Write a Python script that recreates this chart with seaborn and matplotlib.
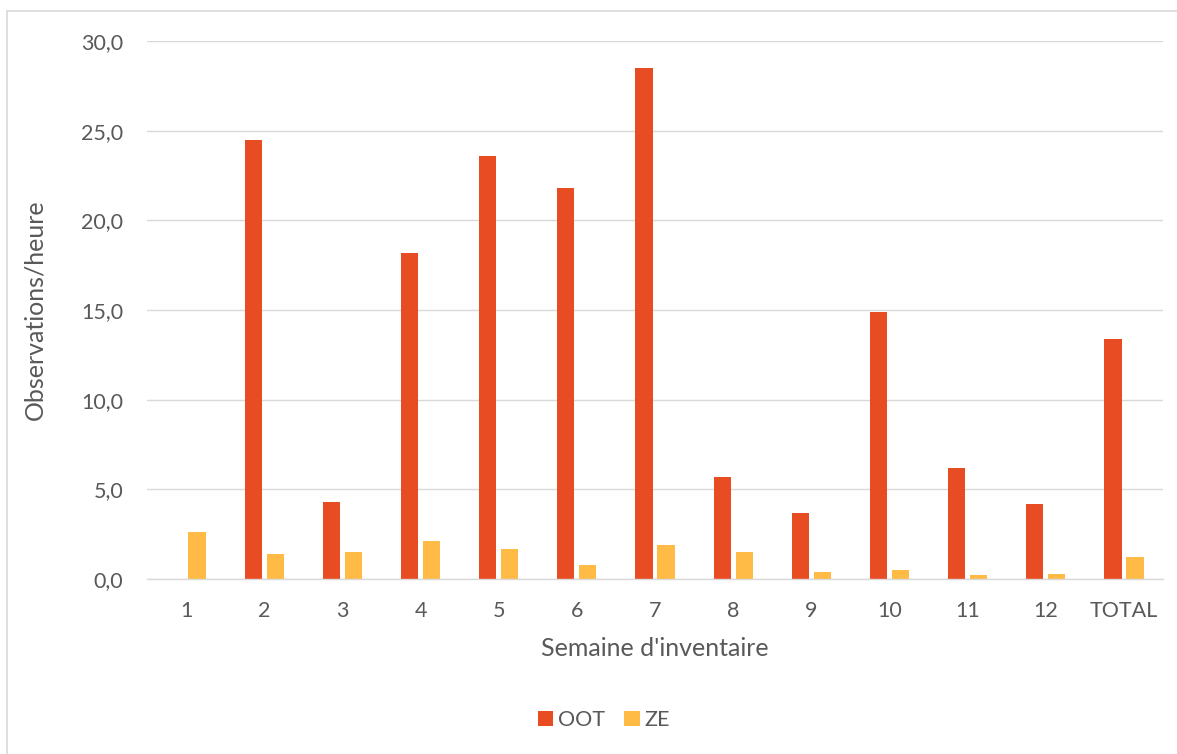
import matplotlib
matplotlib.use("Agg")
import matplotlib.pyplot as plt
from matplotlib.lines import Line2D
import seaborn as sns
import pandas as pd

weeks = ["1", "2", "3", "4", "5", "6", "7", "8", "9", "10", "11", "12", "TOTAL"]
oot = [0.0, 24.5, 4.3, 18.2, 23.6, 21.8, 28.5, 5.7, 3.7, 14.9, 6.2, 4.2, 13.4]
ze = [2.6, 1.4, 1.5, 2.1, 1.7, 0.8, 1.9, 1.5, 0.4, 0.5, 0.2, 0.3, 1.2]
series = ["OOT", "ZE"]
colors = ["#E84C22", "#FFBB45"]
yticks = [0, 5, 10, 15, 20, 25, 30]

df = pd.DataFrame({
    "week": weeks * 2,
    "value": oot + ze,
    "series": [series[0]] * len(weeks) + [series[1]] * len(weeks),
})

sns.set_theme(style="white")
plt.rcParams["font.family"] = ["Lato", "DejaVu Sans"]
text_color = "#595959"
grid_color = "#D9D9D9"

W, H = 1177, 754
fig = plt.figure(figsize=(W / 100, H / 100), dpi=100)
left, right, top, bottom = 147, 1163, 41, 579
ax = fig.add_axes([left / W, 1 - bottom / H, (right - left) / W, (bottom - top) / H])

sns.barplot(data=df, x="week", y="value", hue="series", order=weeks,
            hue_order=series, palette=colors, width=0.562, gap=0.214,
            linewidth=0, saturation=1, ax=ax, legend=True)

ax.set_ylim(0, 30)
ax.set_xlim(-0.5, len(weeks) - 0.5)
ax.set_yticks(yticks)
ax.set_yticklabels([f"{v:.1f}".replace(".", ",") for v in yticks])
ax.yaxis.grid(True, color=grid_color, linewidth=1.0)
ax.set_axisbelow(True)
for s in ["top", "right", "left"]:
    ax.spines[s].set_visible(False)
ax.spines["bottom"].set_color(grid_color)
ax.spines["bottom"].set_linewidth(1.0)
ax.tick_params(axis="both", length=0, labelsize=15.5, labelcolor=text_color)
ax.tick_params(axis="x", pad=16)
ax.tick_params(axis="y", pad=17)

ax.set_xlabel("Semaine d'inventaire", fontsize=18, color=text_color)
ax.set_ylabel("Observations/heure", fontsize=18, color=text_color)
ax.xaxis.set_label_coords(0.5, (bottom - 649) / (bottom - top))
ax.xaxis.label.set_va("center")
ax.yaxis.set_label_coords((35 - left) / (right - left), 0.5)
ax.yaxis.label.set_va("center")
ax.yaxis.label.set_ha("center")

handles, labels = ax.get_legend_handles_labels()
ax.get_legend().remove()
fig.legend(handles, labels, loc="center", bbox_to_anchor=(604 / W, 1 - 720 / H),
           ncol=2, frameon=False, fontsize=15.5, labelcolor=text_color,
           handlelength=0.7, handleheight=0.7, handletextpad=0.25,
           columnspacing=0.9, borderpad=0)

fig.add_artist(Line2D([7 / W, 1], [1 - 11 / H, 1 - 11 / H], transform=fig.transFigure,
                      color=grid_color, linewidth=1.2))
fig.add_artist(Line2D([7 / W, 7 / W], [0, 1 - 11 / H], transform=fig.transFigure,
                      color=grid_color, linewidth=1.2))

fig.savefig("out.png", dpi=100, facecolor="white")
